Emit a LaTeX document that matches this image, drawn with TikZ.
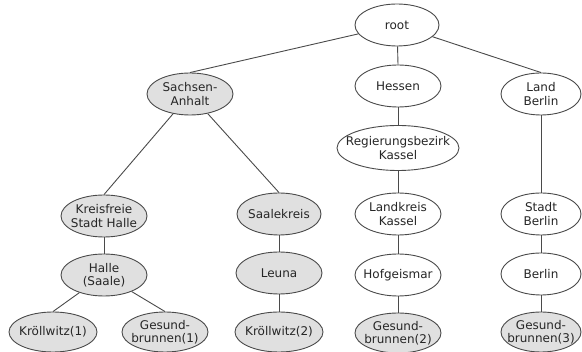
\documentclass[tikz,border=0pt]{standalone}
\usepackage{fontspec}
\setmainfont{DejaVu Sans}
\usetikzlibrary{shapes.geometric}
\definecolor{nodegray}{HTML}{E0E0E0}
\definecolor{linegray}{HTML}{4A4A4A}
\begin{document}
\begin{tikzpicture}[x=1pt,y=-1pt,
  base/.style={ellipse, draw=linegray, line width=0.9pt, inner sep=0pt,
    minimum width=86pt, minimum height=42pt},
  wnode/.style={base, fill=white},
  gnode/.style={base, fill=nodegray},
  every label/.style={align=center, inner sep=0pt, font=\fontsize{12}{13.5}\selectfont, text=black!85},
  edge/.style={draw=linegray, line width=0.9pt}]
\useasboundingbox (0,0) rectangle (582,352);
% level 0
\node[wnode, minimum width=84pt, label=center:root] (root) at (397,25) {};
% level 1
\node[gnode, label=center:{Sachsen-\\Anhalt}] (sa) at (190,94) {};
\node[wnode, label=center:Hessen] (he) at (398,86) {};
\node[wnode, minimum width=80pt, label=center:{Land\\Berlin}] (lb) at (541,94) {};
% level 2
\node[wnode, minimum width=122pt, minimum height=45pt, label=center:{Regierungsbezirk\\Kassel}] (rk) at (398,148) {};
% level 3
\node[gnode, label=center:{Kreisfreie\\Stadt Halle}] (ksh) at (104,216) {};
\node[gnode, minimum width=84pt, label=center:Saalekreis] (sk) at (279,214) {};
\node[wnode, label=center:{Landkreis\\Kassel}] (lk) at (398,214) {};
\node[wnode, minimum width=80pt, label=center:{Stadt\\Berlin}] (sb) at (541,214) {};
% level 4
\node[gnode, label=center:{Halle\\(Saale)}] (hs) at (104,275) {};
\node[gnode, label=center:Leuna] (le) at (279,273) {};
\node[wnode, label=center:Hofgeismar] (hg) at (398,275) {};
\node[wnode, minimum width=80pt, label=center:Berlin] (be) at (541,274) {};
% level 5
\node[gnode, minimum width=88pt, minimum height=40pt, label=center:Kröllwitz(1)] (k1) at (53,332) {};
\node[gnode, minimum height=40pt, label=center:{Gesund-\\brunnen(1)}] (g1) at (165,332) {};
\node[gnode, minimum width=88pt, minimum height=40pt, label=center:Kröllwitz(2)] (k2) at (279,332) {};
\node[gnode, minimum height=40pt, label=center:{Gesund-\\brunnen(2)}] (g2) at (398,333) {};
\node[gnode, minimum width=80pt, minimum height=40pt, label=center:{Gesund-\\brunnen(3)}] (g3) at (541,332) {};
% edges
\draw[edge] (root) -- (sa.north);
\draw[edge] (root) -- (he.north);
\draw[edge] (root) -- (lb.north);
\draw[edge] (sa) -- (ksh.north);
\draw[edge] (sa) -- (sk.north);
\draw[edge] (he) -- (rk.north);
\draw[edge] (rk) -- (lk.north);
\draw[edge] (lb) -- (sb.north);
\draw[edge] (ksh) -- (hs.north);
\draw[edge] (sk) -- (le.north);
\draw[edge] (lk) -- (hg.north);
\draw[edge] (sb) -- (be.north);
\draw[edge] (hs) -- (k1.north);
\draw[edge] (hs) -- (g1.north);
\draw[edge] (le) -- (k2.north);
\draw[edge] (hg) -- (g2.north);
\draw[edge] (be) -- (g3.north);
\end{tikzpicture}
\end{document}
